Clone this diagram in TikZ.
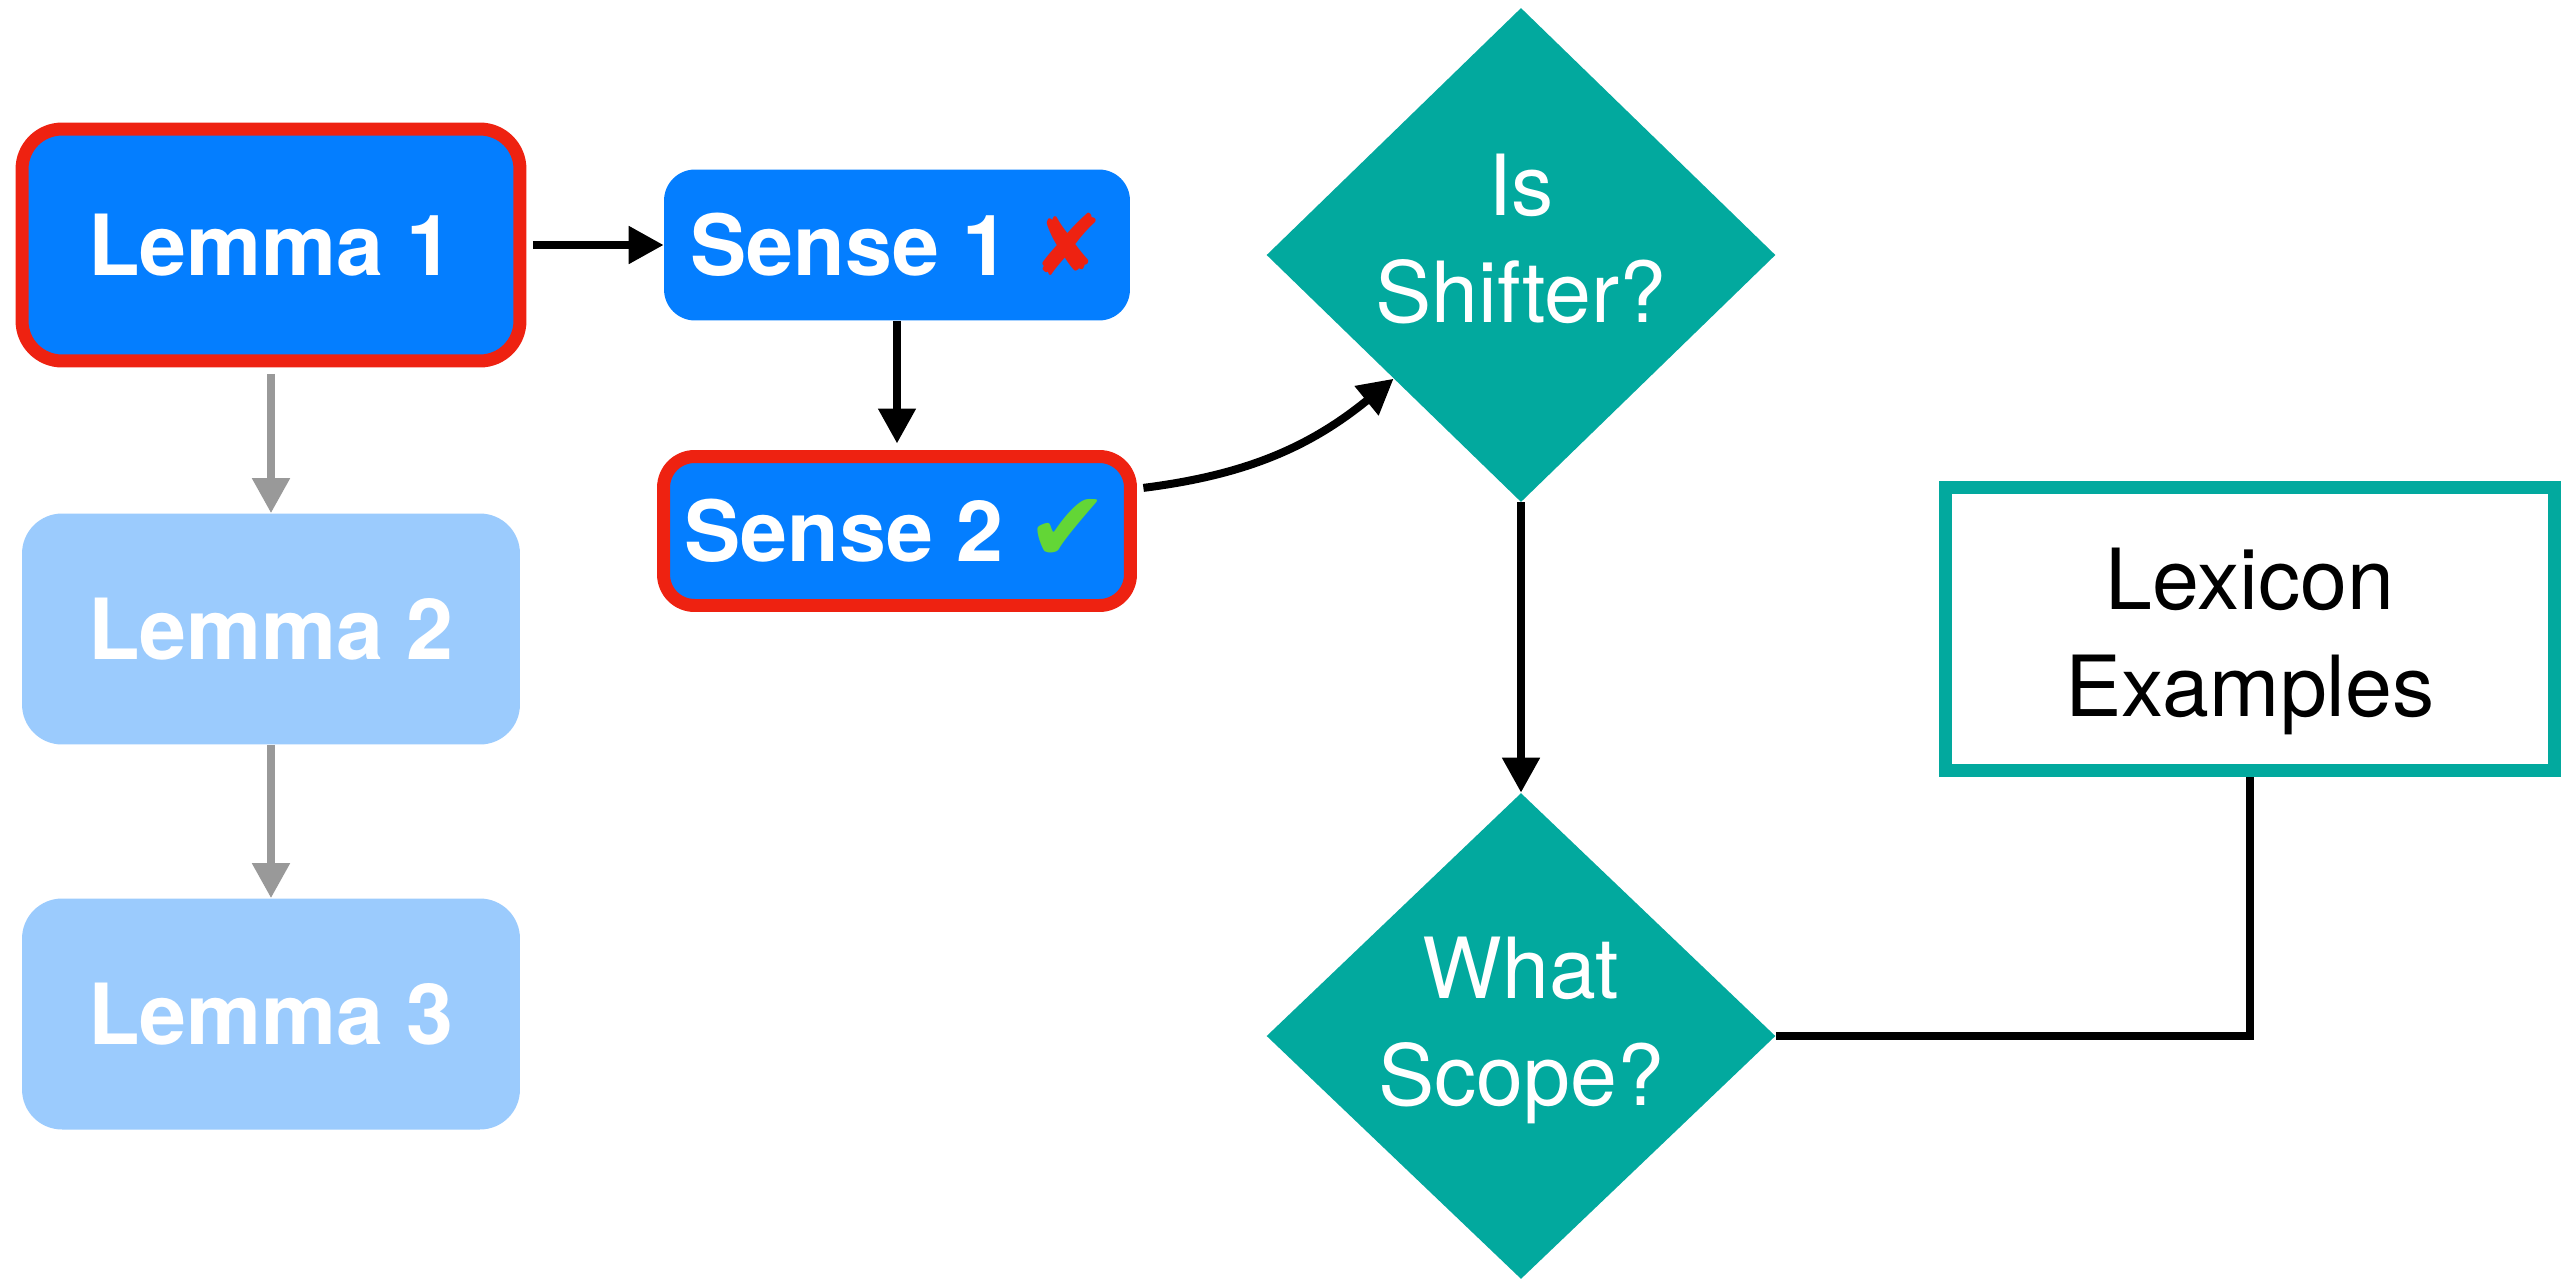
\documentclass[tikz,border=0pt]{standalone}
\usepackage{fontspec}
\setmainfont{TeX Gyre Heros}
\newfontfamily\symfont{DejaVu Sans}
\newfontfamily\symboldfont{DejaVu Sans Bold}
\usetikzlibrary{shapes.geometric,arrows.meta}
\definecolor{kblue}{RGB}{4,126,255}
\definecolor{klight}{RGB}{155,203,253}
\definecolor{kred}{RGB}{238,34,17}
\definecolor{kteal}{RGB}{2,169,158}
\definecolor{kgreen}{RGB}{99,214,54}
\definecolor{kgray}{RGB}{153,153,153}
\begin{document}
\begin{tikzpicture}[x=0.02cm,y=-0.02cm,
  boldtext/.style={font=\fontsize{48}{61}\selectfont\bfseries, text=white, text height=35pt, text depth=0pt},
  lemmabox/.style={rectangle, rounded corners=0.8cm, fill=kblue, boldtext, inner sep=0pt,
    minimum width=9.96cm, minimum height=4.62cm},
  sensebox/.style={rectangle, rounded corners=0.62cm, fill=kblue, boldtext, inner sep=0pt},
  redborder/.style={draw=kred, line width=0.26cm},
  decision/.style={diamond, fill=kteal, text=white, inner sep=0pt, align=center,
    font=\fontsize{48}{61}\selectfont, minimum width=10.18cm, minimum height=9.72cm},
  lexbox/.style={rectangle, draw=kteal, line width=0.26cm, fill=white, text=black, align=center,
    font=\fontsize{48}{61}\selectfont, inner sep=0pt, minimum width=12.2cm, minimum height=5.66cm},
  tip/.style={-{Triangle[length=0.7cm,width=0.72cm]}},
  conn/.style={draw=black, line width=0.16cm, tip},
  grayconn/.style={draw=kgray, line width=0.16cm, tip},
  plainline/.style={draw=black, line width=0.16cm},
]
\useasboundingbox (0,0) rectangle (2575,1279);
\fill[white] (0,0) rectangle (2575,1279);

\node[lemmabox, redborder, minimum height=4.64cm] (l1) at (271,245) {Lemma 1};
\node[lemmabox, fill=klight] (l2) at (271,629) {Lemma 2};
\node[lemmabox, fill=klight] (l3) at (271,1014) {Lemma 3};

\node[sensebox, minimum width=9.32cm, minimum height=3.02cm] (s1) at (897,245)
  {Sense 1 {\symfont\color{kred}✘}};
\node[sensebox, redborder, minimum width=9.34cm, minimum height=2.98cm] (s2) at (897,531)
  {Sense 2 {\symboldfont\fontsize{56}{61}\selectfont\color{kgreen}✔}};

\node[decision] (sh) at (1521,255) {Is\\Shifter?\rule[-0.68cm]{0pt}{0.68cm}};
\node[decision] (ws) at (1521,1036) {What\\Scope?\rule[-0.6cm]{0pt}{0.6cm}};

\node[lexbox] (lex) at (2250,629) {\rule{0pt}{1.74cm}Lexicon\\Examples};

\draw[conn, shorten <=0.13cm] (l1) -- (s1);
\draw[grayconn, shorten <=0.13cm] (l1) -- (l2);
\draw[grayconn] (l2) -- (l3);
\draw[conn, shorten >=0.13cm] (s1) -- (s2);
\draw[conn, shorten <=0.13cm] (s2.10) to[bend right=16] (sh.south west);
\draw[conn] (sh) -- (ws);
\draw[plainline] (ws.east) -| (lex.south);
\end{tikzpicture}
\end{document}
